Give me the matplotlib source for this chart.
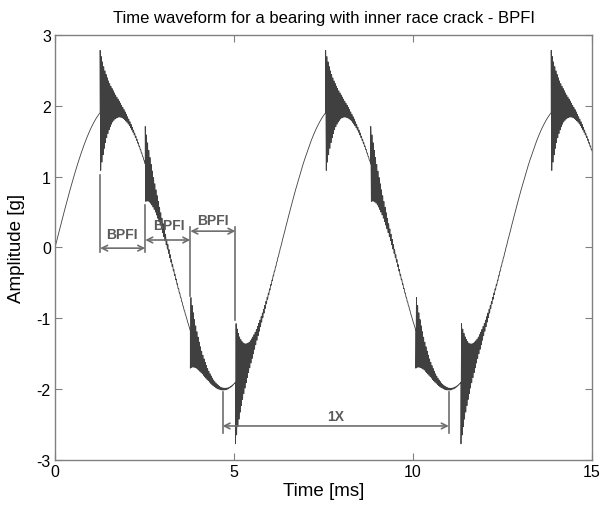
import matplotlib
matplotlib.use("Agg")
import matplotlib.pyplot as plt
import numpy as np

plt.rcParams['font.family'] = ['Liberation Sans', 'DejaVu Sans']
plt.rcParams['axes.unicode_minus'] = False

# Werte
carrier_amp = 2.0          # g
carrier_period = 6.3       # ms (1X)
burst_times = [1.26, 2.52, 3.78, 5.04, 7.56, 8.82, 10.08, 11.34, 13.86]
burst_amps = [0.88, 0.53, -0.53, -0.87, 0.88, 0.53, -0.53, -0.87, 0.88]
burst_decay = 0.26         # ms
burst_freq = 30.0          # Schwingungen pro ms

# BPFI Pfeile: (start, ende, hoehe)
bpfi_start = [1.26, 2.52, 3.78]
bpfi_end = [2.52, 3.78, 5.04]
bpfi_level = [-0.01, 0.105, 0.23]
bpfi_text_t = [1.88, 3.19, 4.40]
bpfi_text_y = [0.19, 0.31, 0.39]

# Hilfslinien: (t, von, bis)
guide_t = [1.26, 2.52, 3.78, 5.04]
guide_lo = [-0.07, -0.07, -0.68, -1.02]
guide_hi = [1.02, 0.60, 0.29, 0.29]

onex_start, onex_end, onex_level = 4.68, 11.0, -2.52
onex_lo, onex_hi = -2.62, -2.04

t = np.linspace(0, 15, 90001)
y = carrier_amp * np.sin(2 * np.pi * t / carrier_period)
for tk, ak in zip(burst_times, burst_amps):
  m = t >= tk
  dt = t[m] - tk
  y[m] += ak * np.exp(-dt / burst_decay) * np.cos(2 * np.pi * burst_freq * dt)

fig = plt.figure(figsize=(6.02, 5.06), dpi=100)
ax = fig.add_axes([0.0914, 0.089, 0.892, 0.84])

ax.plot(t, y, color='#404040', lw=0.6)

gc = '#6e6e6e'
for tg, lo, hi in zip(guide_t, guide_lo, guide_hi):
  ax.plot([tg, tg], [lo, hi], color=gc, lw=1.2)

for a, b, lv, tx, ty in zip(bpfi_start, bpfi_end, bpfi_level, bpfi_text_t, bpfi_text_y):
  ax.annotate('', xy=(b, lv), xytext=(a, lv),
              arrowprops=dict(arrowstyle='<->', color=gc, lw=1.2,
                              shrinkA=0, shrinkB=0, mutation_scale=10))
  ax.text(tx, ty, 'BPFI', color='#5a5a5a', fontsize=10, fontweight='bold',
          ha='center', va='center')

for tg in [onex_start, onex_end]:
  ax.plot([tg, tg], [onex_lo, onex_hi], color=gc, lw=1.2)
ax.annotate('', xy=(onex_end, onex_level), xytext=(onex_start, onex_level),
            arrowprops=dict(arrowstyle='<->', color=gc, lw=1.2,
                            shrinkA=0, shrinkB=0, mutation_scale=10))
ax.text((onex_start + onex_end) / 2, -2.38, '1X', color='#5a5a5a', fontsize=10,
        fontweight='bold', ha='center', va='center')

ax.set_xlim(0, 15)
ax.set_ylim(-3, 3)
ax.set_xticks([0, 5, 10, 15])
ax.set_yticks([-3, -2, -1, 0, 1, 2, 3])
ax.tick_params(direction='in', length=5, top=True, right=True, labelsize=11.5,
               color='#808080', pad=3)
for s in ax.spines.values():
  s.set_color('#808080')
  s.set_linewidth(1.0)

ax.set_xlabel('Time [ms]', fontsize=13.5, labelpad=2)
ax.set_ylabel('Amplitude [g]', fontsize=13.5, labelpad=8)
ax.set_title('Time waveform for a bearing with inner race crack - BPFI', fontsize=12, pad=9)

fig.savefig('out.png', dpi=100)
